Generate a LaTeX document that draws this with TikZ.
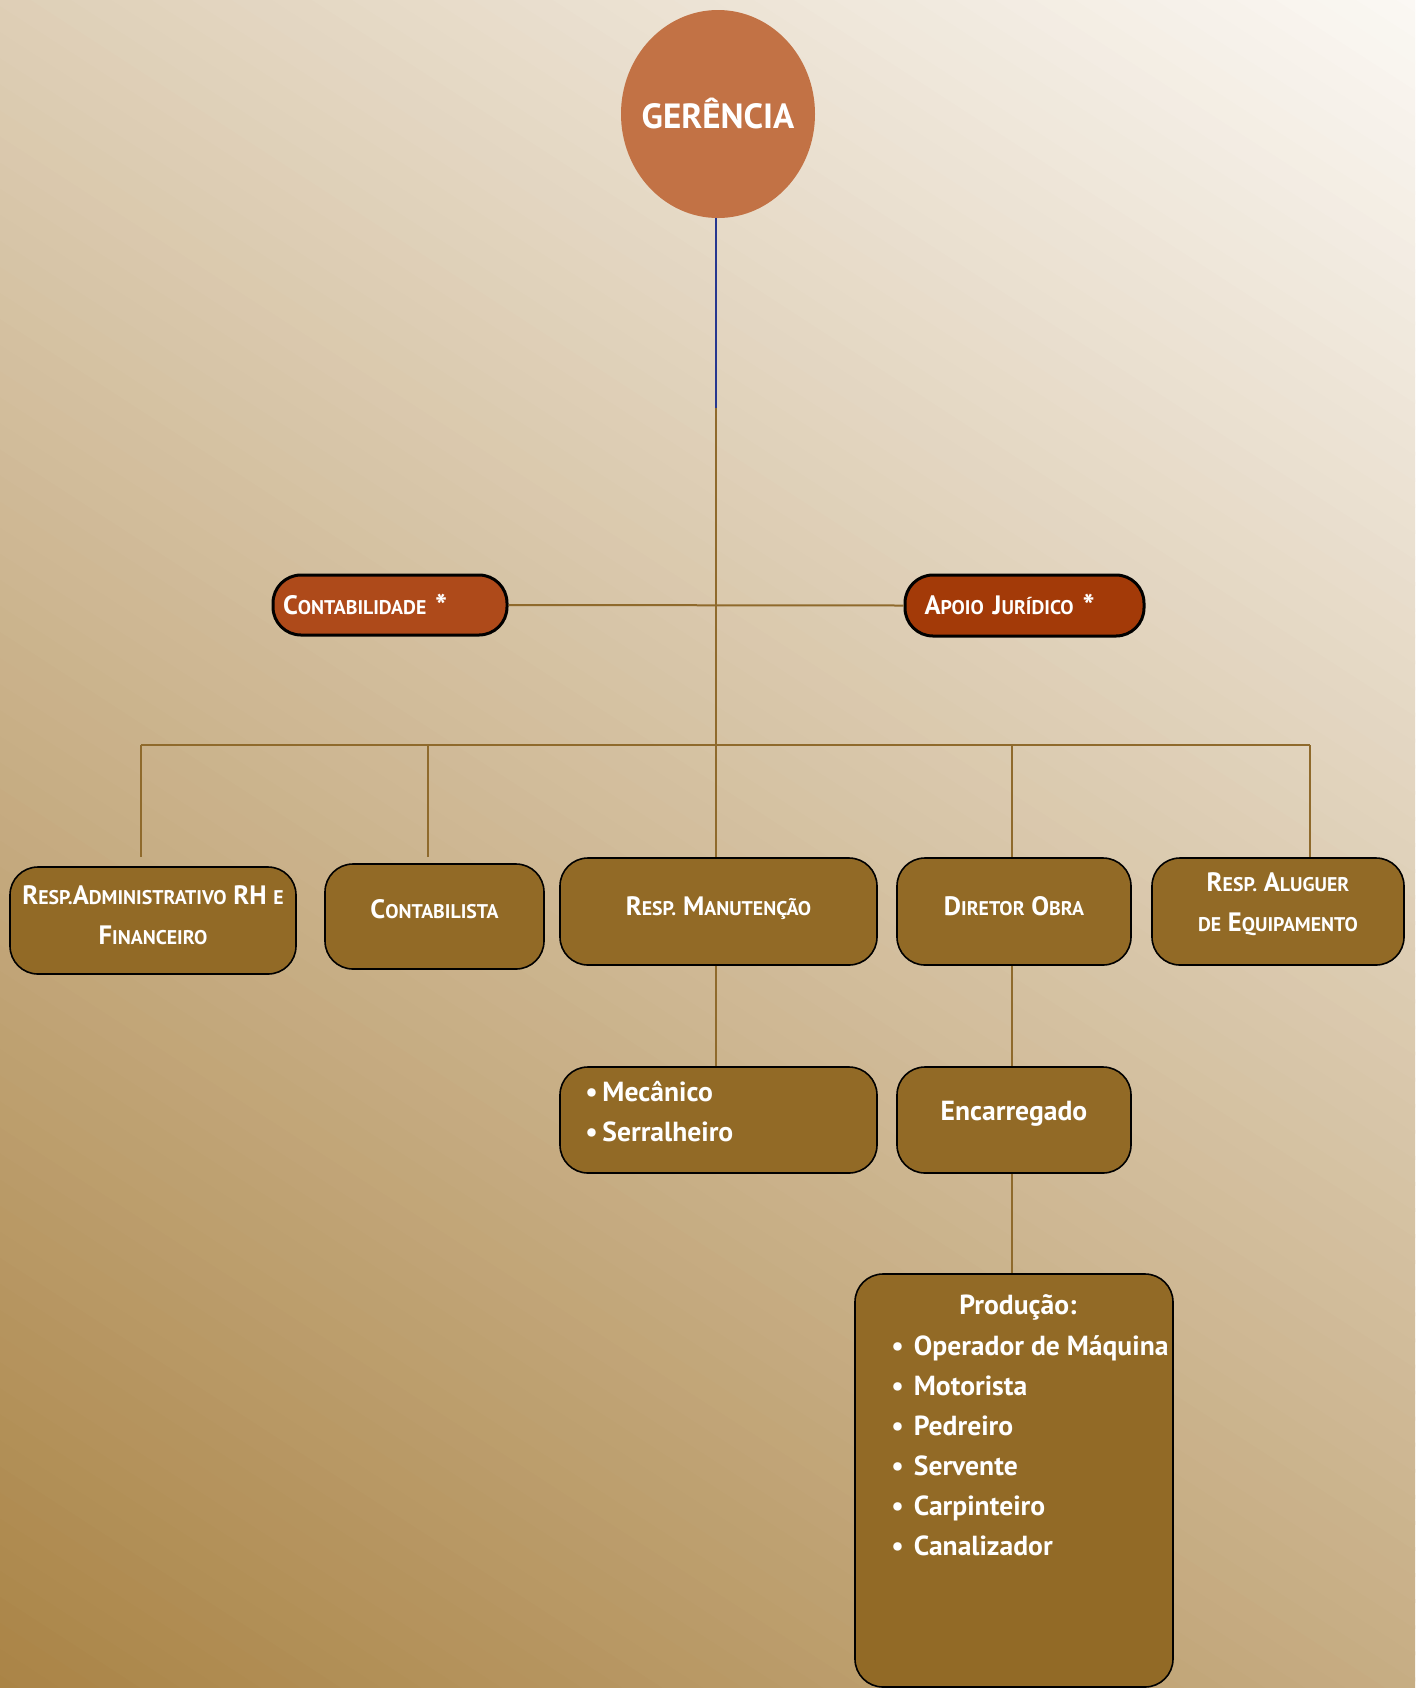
\documentclass[tikz,border=0pt]{standalone}
\usepackage{fontspec}
\setmainfont{PT Sans}
\usetikzlibrary{shapes.geometric}
\definecolor{bgdark}{HTML}{AA8446}
\definecolor{bglight}{HTML}{FBF8F4}
\definecolor{boxfill}{HTML}{926A26}
\definecolor{linebrown}{HTML}{8F6A2C}
\definecolor{lineblue}{HTML}{26378F}
\definecolor{gerfill}{HTML}{C27245}
\definecolor{contfill}{HTML}{AE4A1A}
\definecolor{apoiofill}{HTML}{A33A08}
\newcommand\BG[1]{{\fontsize{13.3}{20}\selectfont #1}}
\newcommand\SM[1]{{\fontsize{9.9}{20}\selectfont #1}}
\newcommand\AST{\smash{\raisebox{-1.5pt}{\fontsize{16}{20}\selectfont *}}}
\tikzset{
  orgbox/.style={draw=black, line width=0.8pt, fill=boxfill, rounded corners=14pt, inner sep=0pt},
  boxlbl/.style={text=white, font=\bfseries\fontsize{13.3}{20}\selectfont, align=center, inner sep=0pt},
  redbox/.style={draw=black, line width=1.5pt, rounded corners=14pt,
    text=white, font=\bfseries\fontsize{13.3}{20}\selectfont, align=left, inner sep=0pt},
  conn/.style={draw=linebrown, line width=1pt},
  listtxt/.style={text=white, font=\bfseries\fontsize{13.8}{20}\selectfont, align=left, inner sep=0pt}
}
\begin{document}
\begin{tikzpicture}[x=0.5pt, y=-0.5pt]
\useasboundingbox (0,0) rectangle (1415,1688);
% background: linear gradient from bottom-left (dark) to top-right (light)
\begin{scope}
\clip (0,0) rectangle (1415,1688);
\begin{scope}[shift={(0,1688)}, x={(0.41935pt,-0.2723pt)}, y={(0.2723pt,0.41935pt)}]
\foreach \i in {0,...,100}{
  \pgfmathsetmacro\ta{\i*21.87-11}
  \pgfmathsetmacro\tb{\i*21.87+14}
  \fill[bglight!\i!bgdark] (-1000,\ta) -- (1300,\ta) -- (1300,\tb) -- (-1000,\tb) -- cycle;
}
\end{scope}
\end{scope}

% top
\node[ellipse, fill=gerfill, minimum width=97pt, minimum height=104pt, inner sep=0pt] (ger) at (718,114) {};
\node[text=white, font=\bfseries\fontsize{17.5}{20}\selectfont, inner sep=0pt] (gertxt) at (ger.center) {GERÊNCIA};

\node[redbox, fill=contfill, minimum width=117pt, minimum height=30pt, text width=107pt] (contab) at (390,605)
  {\BG{C}\SM{ONTABILIDADE} \AST};
\node[redbox, fill=apoiofill, minimum width=119.5pt, minimum height=30.5pt, text width=100pt] (apoio) at (1024.5,605.5)
  {\BG{A}\SM{POIO} \BG{J}\SM{URÍDICO} \AST};

% row boxes
\node[orgbox, minimum width=143pt, minimum height=53.5pt] (adm) at (153,920.5) {};
\node[boxlbl, yshift=2.7pt] (admtxt) at (adm.center)
  {\BG{R}\SM{ESP.}\BG{A}\SM{DMINISTRATIVO} \BG{RH} \SM{E}\\\BG{F}\SM{INANCEIRO}};
\node[orgbox, minimum width=109.5pt, minimum height=52.5pt] (ctb) at (434.5,916.5) {};
\node[boxlbl, yshift=3.6pt] (ctbtxt) at (ctb.center) {\BG{C}\SM{ONTABILISTA}};
\node[orgbox, minimum width=158.5pt, minimum height=53.5pt] (man) at (718.5,911.5) {};
\node[boxlbl, yshift=1.6pt] (mantxt) at (man.center) {\BG{R}\SM{ESP.} \BG{M}\SM{ANUTENÇÃO}};
\node[orgbox, minimum width=117pt, minimum height=53.5pt] (dir) at (1014,911.5) {};
\node[boxlbl, yshift=2.7pt] (dirtxt) at (dir.center) {\BG{D}\SM{IRETOR} \BG{O}\SM{BRA}};
\node[orgbox, minimum width=126pt, minimum height=53.5pt] (alu) at (1278,911.5) {};
\node[boxlbl, yshift=3.6pt] (alutxt) at (alu.center)
  {\BG{R}\SM{ESP.} \BG{A}\SM{LUGUER}\\\SM{DE} \BG{E}\SM{QUIPAMENTO}};

% second level
\node[orgbox, minimum width=158.5pt, minimum height=53pt] (mec) at (718.5,1120) {};
\node[listtxt, anchor=west] (mectxt) at (585,1112)
  {\textbullet\,Mecânico\\\textbullet\,Serralheiro};
\node[orgbox, minimum width=117pt, minimum height=53pt] (enc) at (1014,1120) {};
\node[listtxt, yshift=3.2pt] (enctxt) at (enc.center) {Encarregado};

% producao
\node[orgbox, minimum width=159pt, minimum height=206.5pt] (prod) at (1014,1480.5) {};
\node[listtxt, anchor=north] (prodtit) at (1018,1294) {Produção:};
\node[listtxt, anchor=north west] (prodlist) at (891,1335)
  {\textbullet\hspace{5pt}Operador de Máquina\\
   \textbullet\hspace{5pt}Motorista\\
   \textbullet\hspace{5pt}Pedreiro\\
   \textbullet\hspace{5pt}Servente\\
   \textbullet\hspace{5pt}Carpinteiro\\
   \textbullet\hspace{5pt}Canalizador};

% connectors
\coordinate (j0) at (716,408);
\coordinate (bus) at (716,745);
\coordinate (busL) at (141,745);
\coordinate (busC) at (428,745);
\coordinate (busD) at (1012,745);
\coordinate (busR) at (1310,745);
\draw[draw=lineblue, line width=1pt] (ger.south -| j0) -- (j0);
\draw[conn] (j0) -- (bus);
\draw[conn] (contab.east) -- (apoio.west);
\draw[conn] (busL) -- (busR);
\draw[conn] (busL) -- (busL |- man.north);
\draw[conn] (busC) -- (busC |- man.north);
\draw[conn] (bus) -- (bus |- man.north);
\draw[conn] (busD) -- (busD |- dir.north);
\draw[conn] (busR) -- (busR |- alu.north);
\draw[conn] (man.south -| bus) -- (mec.north -| bus);
\draw[conn] (dir.south -| busD) -- (enc.north -| busD);
\draw[conn] (enc.south -| busD) -- (prod.north -| busD);
\end{tikzpicture}
\end{document}
